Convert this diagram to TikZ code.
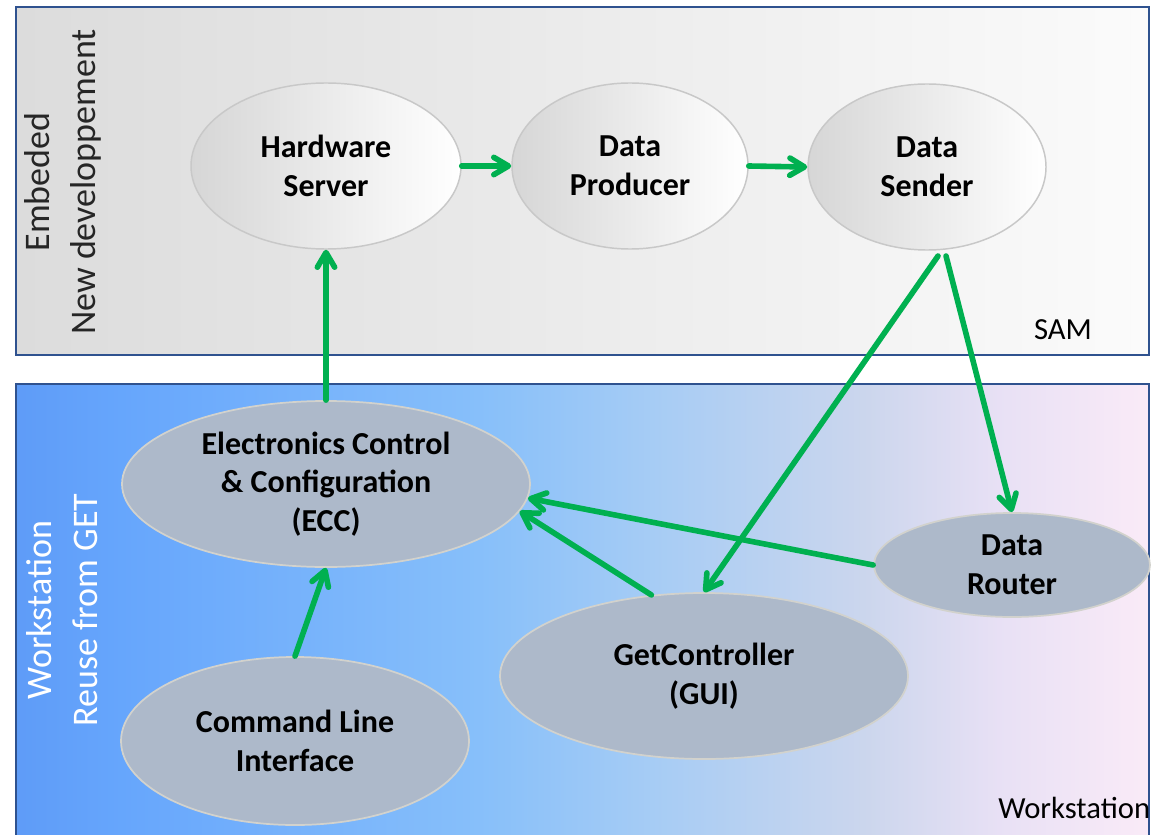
\documentclass[tikz,border=0pt]{standalone}
\usepackage{fontspec}
\setmainfont{Carlito}
\usetikzlibrary{shapes.geometric,arrows.meta}

\definecolor{frameblue}{RGB}{47,82,143}
\definecolor{flowgreen}{RGB}{0,176,80}
\definecolor{slate}{RGB}{173,185,202}
\definecolor{slateedge}{RGB}{210,210,205}
\definecolor{pearl}{RGB}{200,200,200}

% colour run of the workstation band, from deep blue to a pale pink
\pgfdeclarehorizontalshading{wsband}{100bp}{%
  rgb(0bp)=(0.37,0.61,0.97);
  rgb(25bp)=(0.37,0.61,0.97);
  rgb(29.6bp)=(0.40,0.65,0.99);
  rgb(45.5bp)=(0.53,0.75,0.98);
  rgb(53bp)=(0.65,0.80,0.96);
  rgb(62.6bp)=(0.80,0.84,0.93);
  rgb(68.4bp)=(0.91,0.88,0.96);
  rgb(75bp)=(0.98,0.92,0.97);
  rgb(100bp)=(0.98,0.92,0.97)}

\tikzset{
  band/.style={draw=frameblue, line width=1.5pt},
  nodetext/.style={font=\bfseries\fontsize{24}{29}\selectfont, align=center, text=black},
  embell/.style={ellipse, inner sep=0pt, draw=pearl, line width=1.1pt,
    shading=axis, left color={rgb,255:red,214;green,214;blue,214}, right color=white,
    shading angle=90, nodetext},
  wsell/.style={ellipse, inner sep=0pt, draw=slateedge, line width=1.3pt,
    fill=slate, nodetext},
  sidelabel/.style={rotate=90, align=center, font=\fontsize{27}{34}\selectfont},
  cornerlabel/.style={font=\fontsize{23}{28}\selectfont, text=black, inner sep=0pt},
  flow/.style={draw=flowgreen, line width=4.2pt, line cap=round,
    -{Straight Barb[length=11pt,width=13pt,line cap=round,line join=round]}},
}

\begin{document}
\begin{tikzpicture}[x=0.75pt,y=-0.75pt]
\useasboundingbox (0,0) rectangle (1151,834);
\fill[white] (0,0) rectangle (1151,834);
\clip (0,0) rectangle (1151,834);

% embedded (SAM) band
\shade[left color={rgb,255:red,220;green,220;blue,220},
       right color={rgb,255:red,251;green,251;blue,251}]
  (16,7) rectangle (1149,355);
\draw[band] (16,7) rectangle (1149,355);

% workstation band
\shade[shading=wsband] (16,384) rectangle (1149,860);
\draw[band] (16,860) -- (16,384) -- (1149,384) -- (1149,860);

% band captions
\node[sidelabel, text={rgb,255:red,38;green,38;blue,38}] (embcap) at (63,182)
  {Embeded\\New developpement};
\node[sidelabel, text=white] (wscap) at (62,610)
  {Workstation\\Reuse from GET};
\node[cornerlabel, anchor=base] (samcap) at (1063,339) {SAM};
\node[cornerlabel, anchor=base west] (wstcap) at (998,818) {Workstation};

% embedded processes
\node[embell, minimum width=202.5pt, minimum height=124.5pt] (hs) at (326,166) {Hardware\\Server};
\node[embell, minimum width=177pt, minimum height=124.5pt] (dp) at (630,166) {Data\\Producer};
\node[embell, minimum width=178.5pt, minimum height=124.5pt] (ds) at (927,167) {Data\\Sender};

% workstation processes
\node[wsell, minimum width=306pt, minimum height=124.5pt] (ecc) at (326,484)
  {Electronics Control\\\& Configuration\\(ECC)};
\node[wsell, minimum width=261pt, minimum height=126pt] (cli) at (295,741)
  {Command Line\\Interface};
\node[wsell, minimum width=306pt, minimum height=124.5pt] (gui) at (704,676)
  {GetController\\(GUI)};
\node[wsell, minimum width=207pt, minimum height=78pt] (dr) at (1012,565)
  {Data\\Router};

% data and control flows
\coordinate (dsa) at (938,256);
\coordinate (dsb) at (946,256);
\draw[flow] (hs.east) -- (dp.west);
\draw[flow] (dp.east) -- (ds.west);
\draw[flow] (ecc.north) -- (hs.south);
\draw[flow] (cli.north) -- (ecc.south);
\draw[flow] (dsa) -- (gui.north);
\draw[flow] (dsb) -- (dr.north);
\draw[flow] (dr.west) -- (ecc.-4);
\draw[flow] (gui.123) -- (ecc.-8.5);
\end{tikzpicture}
\end{document}
